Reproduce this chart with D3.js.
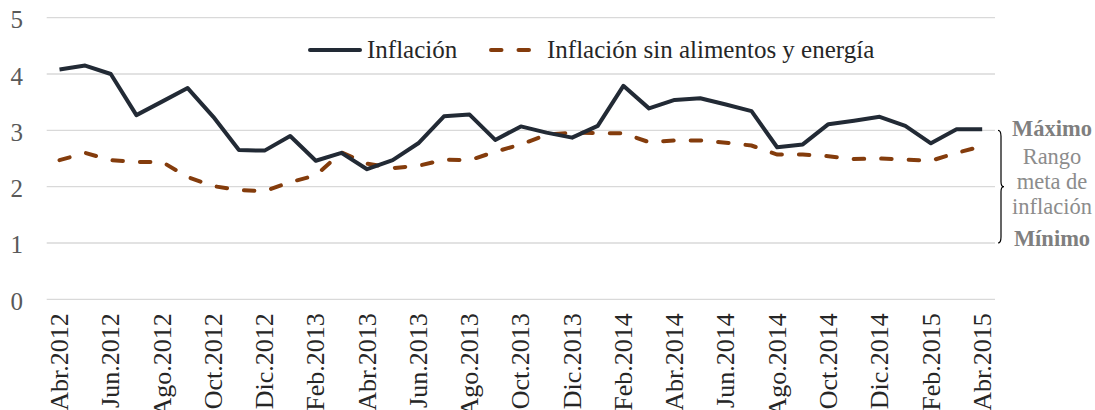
<!DOCTYPE html>
<html>
<head>
<meta charset="utf-8">
<script src="https://cdn.jsdelivr.net/npm/d3@7"></script>
<style>
  body { margin: 0; background: #fff; }
  text { font-family: "Liberation Serif", serif; }
</style>
</head>
<body>
<script>
// months (only every other one gets a label)
const months = [
  "Abr.2012","May.2012","Jun.2012","Jul.2012","Ago.2012","Set.2012","Oct.2012","Nov.2012","Dic.2012",
  "Ene.2013","Feb.2013","Mar.2013","Abr.2013","May.2013","Jun.2013","Jul.2013","Ago.2013","Set.2013",
  "Oct.2013","Nov.2013","Dic.2013","Ene.2014","Feb.2014","Mar.2014","Abr.2014","May.2014","Jun.2014",
  "Jul.2014","Ago.2014","Set.2014","Oct.2014","Nov.2014","Dic.2014","Ene.2015","Feb.2015","Mar.2015","Abr.2015"
];

// Inflación
const inflacion = [
  4.08, 4.15, 4.00, 3.27, 3.51, 3.75, 3.24, 2.65, 2.64,
  2.90, 2.46, 2.60, 2.31, 2.47, 2.77, 3.25, 3.28, 2.83,
  3.07, 2.96, 2.87, 3.08, 3.79, 3.39, 3.54, 3.57, 3.46,
  3.34, 2.70, 2.75, 3.11, 3.17, 3.24, 3.08, 2.77, 3.02, 3.02
];

// Inflación sin alimentos y energía
const subyacente = [
  2.47, 2.60, 2.47, 2.44, 2.44, 2.17, 2.01, 1.94, 1.92,
  2.08, 2.20, 2.61, 2.41, 2.33, 2.37, 2.48, 2.47, 2.62,
  2.75, 2.92, 2.96, 2.95, 2.95, 2.79, 2.82, 2.82, 2.78,
  2.73, 2.57, 2.57, 2.54, 2.49, 2.50, 2.48, 2.46, 2.60, 2.72
];

const yTicks = [0, 1, 2, 3, 4, 5];
const seriesNames = ["Inflación", "Inflación sin alimentos y energía"];
const rangoMeta = [1, 3];

const width = 1095;
const height = 410;
const margin = {top: 17.7, right: 100, bottom: 110.7, left: 46.7};

const x = d3.scaleBand(months, [margin.left, width - margin.right]);
const y = d3.scaleLinear([0, 5], [height - margin.bottom, margin.top]);
const cx = d => x(d) + x.bandwidth() / 2;

const svg = d3.select("body")
  .append("svg")
  .attr("width", width)
  .attr("height", height);

// gridlines
svg.append("g")
  .selectAll("line")
  .data(yTicks)
  .join("line")
  .attr("x1", margin.left)
  .attr("x2", width - margin.right)
  .attr("y1", d => y(d))
  .attr("y2", d => y(d))
  .attr("stroke", "#d9d9d9")
  .attr("stroke-width", 1.3);

// y axis labels
const yAxis = d3.axisLeft(y).tickValues(yTicks).tickFormat(d3.format("d")).tickSize(0).tickPadding(0);
svg.append("g")
  .attr("transform", `translate(23,0)`)
  .call(yAxis)
  .call(g => g.select(".domain").remove())
  .selectAll("text")
  .attr("font-size", 25)
  .attr("font-family", "Liberation Serif")
  .attr("fill", "#595959")
  .attr("dy", "0.4em");

// x axis labels, rotated
const xAxis = d3.axisBottom(x)
  .tickValues(months.filter((d, i) => i % 2 === 0))
  .tickSize(0);
svg.append("g")
  .attr("transform", `translate(0, ${y(0)})`)
  .call(xAxis)
  .call(g => g.select(".domain").remove())
  .selectAll("text")
  .attr("font-size", 26)
  .attr("font-family", "Liberation Serif")
  .attr("fill", "#262626")
  .attr("text-anchor", "end")
  .attr("transform", "rotate(-90)")
  .attr("x", -14)
  .attr("y", 0)
  .attr("dy", "0.33em");

// lines
const line = d3.line()
  .x((d, i) => cx(months[i]))
  .y(d => y(d));

svg.append("path")
  .datum(subyacente)
  .attr("d", line)
  .attr("fill", "none")
  .attr("stroke", "#843c0c")
  .attr("stroke-width", 4)
  .attr("stroke-linecap", "round")
  .attr("stroke-dasharray", "10.5,17");

svg.append("path")
  .datum(inflacion)
  .attr("d", line)
  .attr("fill", "none")
  .attr("stroke", "#222a35")
  .attr("stroke-width", 4)
  .attr("stroke-linejoin", "round");

// legend
const legend = svg.append("g");
legend.append("line")
  .attr("x1", 310).attr("x2", 360).attr("y1", 50).attr("y2", 50)
  .attr("stroke", "#222a35").attr("stroke-width", 4).attr("stroke-linecap", "round");
legend.append("text")
  .attr("x", 367).attr("y", 58)
  .attr("font-size", 25).attr("fill", "#262626")
  .text(seriesNames[0]);
legend.append("line")
  .attr("x1", 491).attr("x2", 531).attr("y1", 50).attr("y2", 50)
  .attr("stroke", "#843c0c").attr("stroke-width", 4)
  .attr("stroke-linecap", "round").attr("stroke-dasharray", "10.5,17");
legend.append("text")
  .attr("x", 547).attr("y", 58)
  .attr("font-size", 25).attr("fill", "#262626")
  .text(seriesNames[1]);

// target range brace
const yTop = y(rangoMeta[1]);
const yBot = y(rangoMeta[0]);
const yMid = (yTop + yBot) / 2;
const bx = 998;
svg.append("path")
  .attr("d", `M${bx},${yTop} Q${bx + 3},${yTop} ${bx + 3},${yTop + 6}
    L${bx + 3},${yMid - 5} Q${bx + 3},${yMid} ${bx + 6},${yMid}
    Q${bx + 3},${yMid} ${bx + 3},${yMid + 5}
    L${bx + 3},${yBot - 6} Q${bx + 3},${yBot} ${bx},${yBot}`)
  .attr("fill", "none")
  .attr("stroke", "#000")
  .attr("stroke-width", 1.2);

const ann = svg.append("g")
  .attr("text-anchor", "middle")
  .attr("font-size", 22.5)
  .attr("fill", "#7f7f7f");
ann.append("text").attr("x", 1052).attr("y", yTop + 6).attr("font-weight", "bold").text("Máximo");
ann.append("text").attr("x", 1052).attr("y", yTop + 34).attr("fill", "#8c8c8c").text("Rango");
ann.append("text").attr("x", 1052).attr("y", yTop + 59).attr("fill", "#8c8c8c").text("meta de");
ann.append("text").attr("x", 1052).attr("y", yTop + 84).attr("fill", "#8c8c8c").text("inflación");
ann.append("text").attr("x", 1052).attr("y", yBot + 3).attr("font-weight", "bold").text("Mínimo");
</script>
</body>
</html>
